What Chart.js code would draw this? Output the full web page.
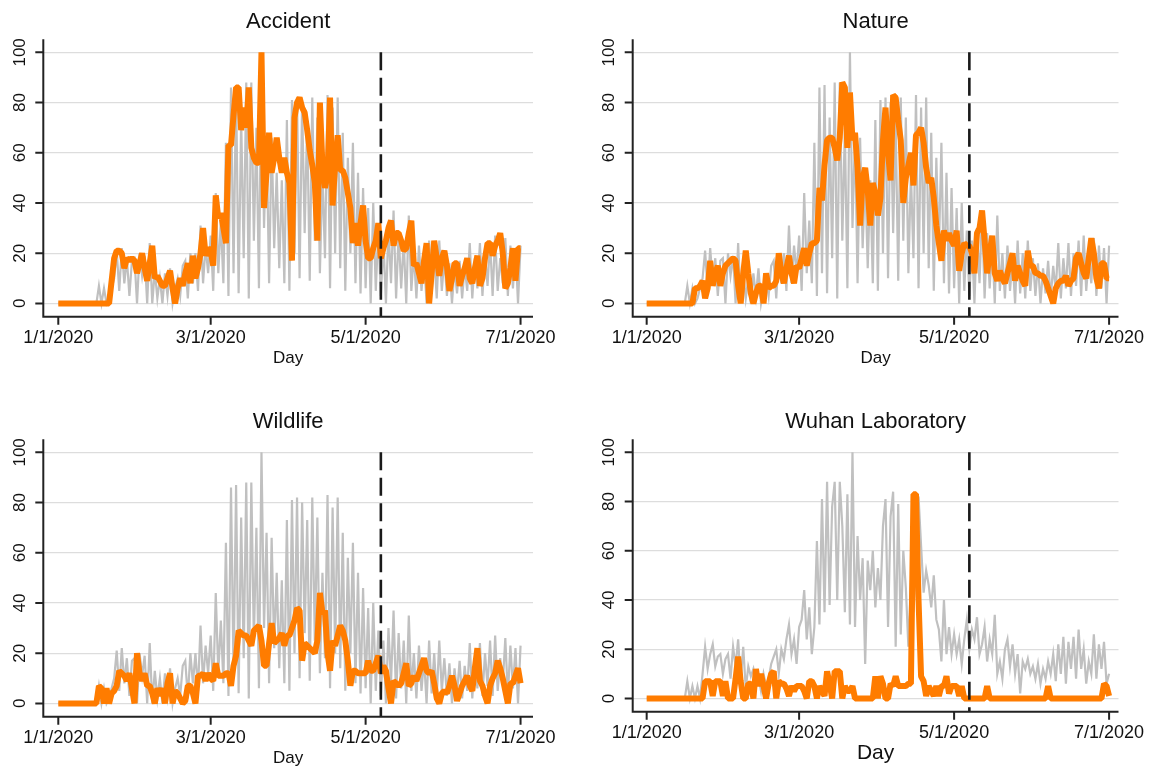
<!DOCTYPE html>
<html>
<head>
<meta charset="utf-8">
<title>Origin narratives, Jan-Jul 2020</title>
<script src="https://cdn.jsdelivr.net/npm/chart.js@4.4.1/dist/chart.umd.min.js"></script>
<style>
  html, body { margin: 0; padding: 0; background: #fff; }
  #wrap { position: relative; width: 1158px; height: 766px; overflow: hidden; }
  canvas { position: absolute; }
</style>
</head>
<body>
<div id="wrap">
  <canvas id="c0" width="579" height="383" style="left:0;top:0"></canvas>
  <canvas id="c1" width="579" height="383" style="left:579px;top:0"></canvas>
  <canvas id="c2" width="579" height="383" style="left:0;top:383px"></canvas>
  <canvas id="c3" width="579" height="383" style="left:579px;top:383px"></canvas>
</div>
<script>
// x values are days since 1/1/2020 (index in each array)
const tickDays = [0, 60, 121, 182];
const tickLabels = ["1/1/2020", "3/1/2020", "5/1/2020", "7/1/2020"];
const yTicks = [0, 20, 40, 60, 80, 100];
const cutoffDay = 127;
const titles = ["Accident", "Nature", "Wildlife", "Wuhan Laboratory"];

// overall interest (grey) behind the first three panels
const overall = [
  0, 0, 0, 0, 0, 0, 0, 0, 0, 0,
  0, 0, 0, 0, 0, 0, 7, 0, 6, 0,
  2, 6, 10, 21, 5, 22, 8, 18, 3, 17,
  18, 0, 20, 11, 19, 0, 24, 0, 13, 2,
  10, 0, 12, 3, 14, 0, 6, 10, 3, 15,
  17, 2, 20, 8, 20, 5, 31, 8, 23, 12,
  27, 5, 44, 12, 33, 8, 64, 3, 86, 12,
  87, 4, 74, 18, 88, 2, 88, 25, 70, 6,
  100, 30, 68, 8, 66, 22, 52, 14, 49, 8,
  73, 5, 81, 20, 82, 10, 80, 28, 73, 9,
  82, 25, 74, 12, 52, 18, 83, 6, 78, 20,
  82, 14, 68, 5, 58, 20, 64, 8, 52, 4,
  46, 6, 38, 0, 40, 5, 29, 3, 25, 0,
  30, 8, 37, 2, 28, 6, 25, 0, 35, 5,
  20, 2, 23, 5, 18, 0, 25, 4, 20, 2,
  25, 5, 18, 3, 16, 0, 14, 4, 17, 2,
  15, 5, 24, 2, 18, 6, 24, 3, 20, 7,
  25, 3, 27, 5, 18, 8, 26, 3, 23, 6,
  22, 0, 23
];

// overall interest (grey) behind the Wuhan Laboratory panel
const overallLab = [
  0, 0, 0, 0, 0, 0, 0, 0, 0, 0,
  0, 0, 0, 0, 0, 0, 7, 0, 5, 0,
  5, 0, 10, 21, 12, 18, 22, 13, 17, 18,
  10, 16, 18, 8, 21, 13, 24, 7, 21, 4,
  13, 9, 12, 6, 9, 3, 10, 5, 8, 14,
  17, 20, 10, 20, 16, 24, 30, 18, 24, 14,
  29, 32, 44, 24, 37, 18, 29, 64, 30, 81,
  35, 88, 38, 78, 88, 40, 88, 70, 35, 83,
  30, 100, 29, 66, 40, 57, 14, 56, 44, 60,
  37, 53, 40, 70, 81, 29, 74, 84, 21, 79,
  26, 60, 45, 21, 48, 35, 55, 82, 62, 43,
  52, 46, 37, 50, 32, 28, 15, 40, 18, 29,
  18, 26, 18, 24, 14, 24, 32, 20, 28, 24,
  33, 18, 22, 29, 15, 24, 18, 34, 10, 15,
  8, 20, 24, 13, 22, 10, 18, 2, 15, 12,
  16, 10, 13, 8, 14, 6, 12, 8, 15, 10,
  18, 7, 22, 10, 25, 6, 23, 12, 25, 8,
  28, 12, 20, 6, 15, 10, 26, 8, 22, 12,
  23, 6, 10
];

const accident = [
  0, 0, 0, 0, 0, 0, 0, 0, 0, 0,
  0, 0, 0, 0, 0, 0, 0, 0, 0, 0,
  0, 9, 18, 21, 21, 20, 14, 18, 17, 18,
  17, 12, 16, 20, 14, 9, 16, 23, 10, 11,
  9, 7, 7, 10, 13, 6, 0, 6, 10, 7,
  12, 16, 8, 19, 10, 14, 20, 30, 19, 22,
  21, 15, 43, 34, 36, 30, 24, 63, 63, 75,
  86, 86, 69, 78, 70, 86, 62, 58, 56, 56,
  100, 38, 52, 68, 52, 58, 66, 58, 52, 58,
  52, 48, 17, 74, 80, 82, 78, 76, 69, 61,
  55, 48, 25, 80, 55, 46, 51, 82, 39, 55,
  67, 53, 53, 50, 44, 38, 24, 32, 23, 32,
  39, 25, 18, 18, 22, 25, 32, 18, 22, 25,
  30, 33, 23, 28, 28, 25, 21, 22, 28, 33,
  15, 16, 12, 8, 17, 24, 0, 12, 25, 18,
  11, 18, 21, 15, 5, 10, 16, 16, 7, 11,
  14, 18, 10, 8, 14, 19, 7, 10, 18, 24,
  24, 19, 23, 25, 28, 20, 6, 8, 14, 22,
  9, 22, 22
];

const nature = [
  0, 0, 0, 0, 0, 0, 0, 0, 0, 0,
  0, 0, 0, 0, 0, 0, 0, 0, 0, 6,
  6, 7, 9, 2, 6, 17, 7, 12, 15, 7,
  12, 15, 16, 17, 18, 17, 7, 0, 12, 21,
  12, 4, 0, 4, 7, 7, 0, 12, 6, 7,
  7, 9, 20, 12, 8, 14, 19, 12, 8, 15,
  14, 18, 22, 15, 20, 24, 24, 25, 46, 41,
  55, 65, 66, 66, 62, 57, 66, 88, 86, 62,
  84, 65, 68, 54, 31, 50, 54, 45, 31, 48,
  44, 35, 42, 65, 78, 60, 49, 83, 82, 73,
  65, 40, 50, 55, 60, 47, 67, 68, 70, 64,
  54, 48, 50, 42, 31, 24, 17, 29, 25, 28,
  25, 23, 29, 13, 20, 24, 23, 23, 20, 12,
  28, 30, 37, 25, 12, 20, 27, 12, 9, 13,
  10, 8, 12, 16, 20, 9, 15, 12, 9, 7,
  21, 15, 15, 12, 12, 11, 11, 9, 6, 3,
  0, 6, 8, 9, 9, 11, 7, 9, 10, 18,
  20, 16, 12, 10, 18, 26, 20, 10, 6, 16,
  16, 10, 10
];

const wildlife = [
  0, 0, 0, 0, 0, 0, 0, 0, 0, 0,
  0, 0, 0, 0, 0, 0, 7, 6, 0, 6,
  0, 4, 5, 7, 13, 12, 11, 9, 12, 6,
  0, 20, 12, 9, 12, 7, 7, 4, 0, 6,
  3, 6, 0, 8, 12, 0, 5, 4, 2, 0,
  1, 7, 7, 4, 0, 11, 11, 12, 9, 12,
  10, 9, 16, 11, 11, 11, 12, 12, 7, 15,
  19, 29, 28, 27, 27, 25, 23, 29, 30, 31,
  25, 15, 15, 24, 32, 24, 25, 26, 28, 23,
  27, 27, 30, 33, 38, 37, 17, 24, 23, 22,
  21, 20, 25, 44, 36, 37, 20, 13, 25, 23,
  27, 31, 29, 25, 17, 7, 13, 13, 12, 12,
  12, 12, 17, 13, 13, 16, 19, 12, 15, 13,
  6, 0, 9, 8, 7, 8, 12, 16, 7, 8,
  11, 9, 12, 15, 18, 13, 12, 13, 8, 2,
  0, 4, 5, 4, 7, 11, 7, 1, 4, 7,
  9, 11, 7, 5, 14, 22, 9, 7, 3, 0,
  7, 10, 12, 17, 14, 10, 5, 0, 8, 8,
  11, 14, 8
];

const wuhanLab = [
  0, 0, 0, 0, 0, 0, 0, 0, 0, 0,
  0, 0, 0, 0, 0, 0, 0, 0, 0, 0,
  0, 0, 0, 7, 7, 7, 1, 7, 7, 7,
  1, 7, 0, 0, 0, 8, 17, 7, 0, 0,
  6, 6, 0, 12, 5, 10, 5, 0, 6, 10,
  11, 0, 7, 6, 6, 4, 1, 5, 3, 5,
  5, 5, 3, 0, 7, 7, 5, 0, 5, 3,
  1, 11, 6, 0, 11, 11, 11, 0, 5, 3,
  3, 5, 0, 0, 0, 0, 0, 0, 0, 0,
  9, 0, 9, 6, 0, 0, 6, 5, 9, 5,
  5, 5, 5, 6, 6, 83, 83, 40, 9, 7,
  1, 5, 3, 1, 5, 1, 5, 5, 9, 2,
  5, 5, 5, 1, 5, 0, 0, 0, 0, 0,
  0, 0, 0, 0, 5, 0, 0, 0, 0, 0,
  0, 0, 0, 0, 0, 0, 0, 0, 0, 0,
  0, 0, 0, 0, 0, 0, 0, 0, 5, 0,
  0, 0, 0, 0, 0, 0, 0, 0, 0, 0,
  0, 0, 0, 0, 0, 0, 0, 0, 0, 0,
  6, 5, 1
];

const topics = [accident, nature, wildlife, wuhanLab];
const backgrounds = [overall, overall, overall, overallLab];

// plot box of each panel inside its canvas
const frames = [
  { pad: { left: 43.3, top: 39.3, right: 46, bottom: 66.3 }, x: [-5.9, 186.9], y: [-5.3, 105.2], daySize: 17 },
  { pad: { left: 53.7, top: 39.3, right: 39.5, bottom: 66.3 }, x: [-5.5, 185.7], y: [-5.3, 105.2], daySize: 17 },
  { pad: { left: 43.3, top: 56.3, right: 46, bottom: 49.3 }, x: [-5.9, 186.9], y: [-5.3, 105.2], daySize: 17 },
  { pad: { left: 53.7, top: 56.3, right: 39.5, bottom: 54.3 }, x: [-5.5, 185.7], y: [-5.4, 105.3], daySize: 21 }
];

const FONT = "'Liberation Sans', Arial, Helvetica, sans-serif";
const ORANGE = "rgb(255, 124, 0)";
const GREY = "rgb(192, 192, 192)";

const toPoints = (vals) => vals.map((v, i) => ({ x: i, y: v }));

// axes, tick labels, titles and the dashed cutoff line
const framePlugin = {
  id: "frame",
  afterDatasetsDraw(chart, args, opts) {
    const { ctx, chartArea: a, scales: { x, y } } = chart;
    ctx.save();

    const cx = x.getPixelForValue(cutoffDay);
    ctx.strokeStyle = "#1a1a1a";
    ctx.lineWidth = 2.6;
    ctx.setLineDash([18, 7.5]);
    ctx.beginPath();
    ctx.moveTo(cx, y.getPixelForValue(100));
    ctx.lineTo(cx, a.bottom);
    ctx.stroke();
    ctx.setLineDash([]);

    ctx.strokeStyle = "#222";
    ctx.lineWidth = 2;
    ctx.beginPath();
    ctx.moveTo(a.left, a.top);
    ctx.lineTo(a.left, a.bottom);
    ctx.lineTo(a.right, a.bottom);
    yTicks.forEach((v) => {
      const py = y.getPixelForValue(v);
      ctx.moveTo(a.left - 8, py);
      ctx.lineTo(a.left, py);
    });
    tickDays.forEach((d) => {
      const px = x.getPixelForValue(d);
      ctx.moveTo(px, a.bottom);
      ctx.lineTo(px, a.bottom + 8);
    });
    ctx.stroke();

    ctx.fillStyle = "#111";
    ctx.textAlign = "center";
    ctx.textBaseline = "middle";

    // y labels read bottom to top
    ctx.font = "17px " + FONT;
    yTicks.forEach((v) => {
      ctx.save();
      ctx.translate(a.left - 23, y.getPixelForValue(v));
      ctx.rotate(-Math.PI / 2);
      ctx.fillText(String(v), 0, 0);
      ctx.restore();
    });

    ctx.font = "18px " + FONT;
    tickDays.forEach((d, i) => {
      ctx.fillText(tickLabels[i], x.getPixelForValue(d), a.bottom + 21);
    });

    const mid = (a.left + a.right) / 2;
    ctx.font = opts.daySize + "px " + FONT;
    ctx.fillText("Day", mid, a.bottom + 42);

    ctx.font = "22px " + FONT;
    ctx.fillText(opts.title, mid, a.top - 17);
    ctx.restore();
  }
};

topics.forEach((series, i) => {
  const f = frames[i];
  new Chart(document.getElementById("c" + i), {
    type: "line",
    data: {
      datasets: [
        {
          data: toPoints(series),
          borderColor: ORANGE,
          borderWidth: 6,
          borderJoinStyle: "bevel",
          pointRadius: 0,
          tension: 0
        },
        {
          data: toPoints(backgrounds[i]),
          borderColor: GREY,
          borderWidth: 2.2,
          pointRadius: 0,
          tension: 0
        }
      ]
    },
    options: {
      responsive: false,
      animation: false,
      events: [],
      layout: { padding: f.pad },
      plugins: {
        legend: { display: false },
        tooltip: { enabled: false },
        frame: { title: titles[i], daySize: f.daySize }
      },
      scales: {
        x: {
          type: "linear",
          min: f.x[0],
          max: f.x[1],
          afterFit: (s) => { s.height = 0; },
          ticks: { display: false },
          border: { display: false },
          grid: { display: false }
        },
        y: {
          type: "linear",
          min: f.y[0],
          max: f.y[1],
          afterBuildTicks: (s) => { s.ticks = yTicks.map((v) => ({ value: v })); },
          afterFit: (s) => { s.width = 0; },
          ticks: { display: false },
          border: { display: false },
          grid: { color: "#dddddd", lineWidth: 1.3, drawTicks: false }
        }
      }
    },
    plugins: [framePlugin]
  });
});
</script>
</body>
</html>
